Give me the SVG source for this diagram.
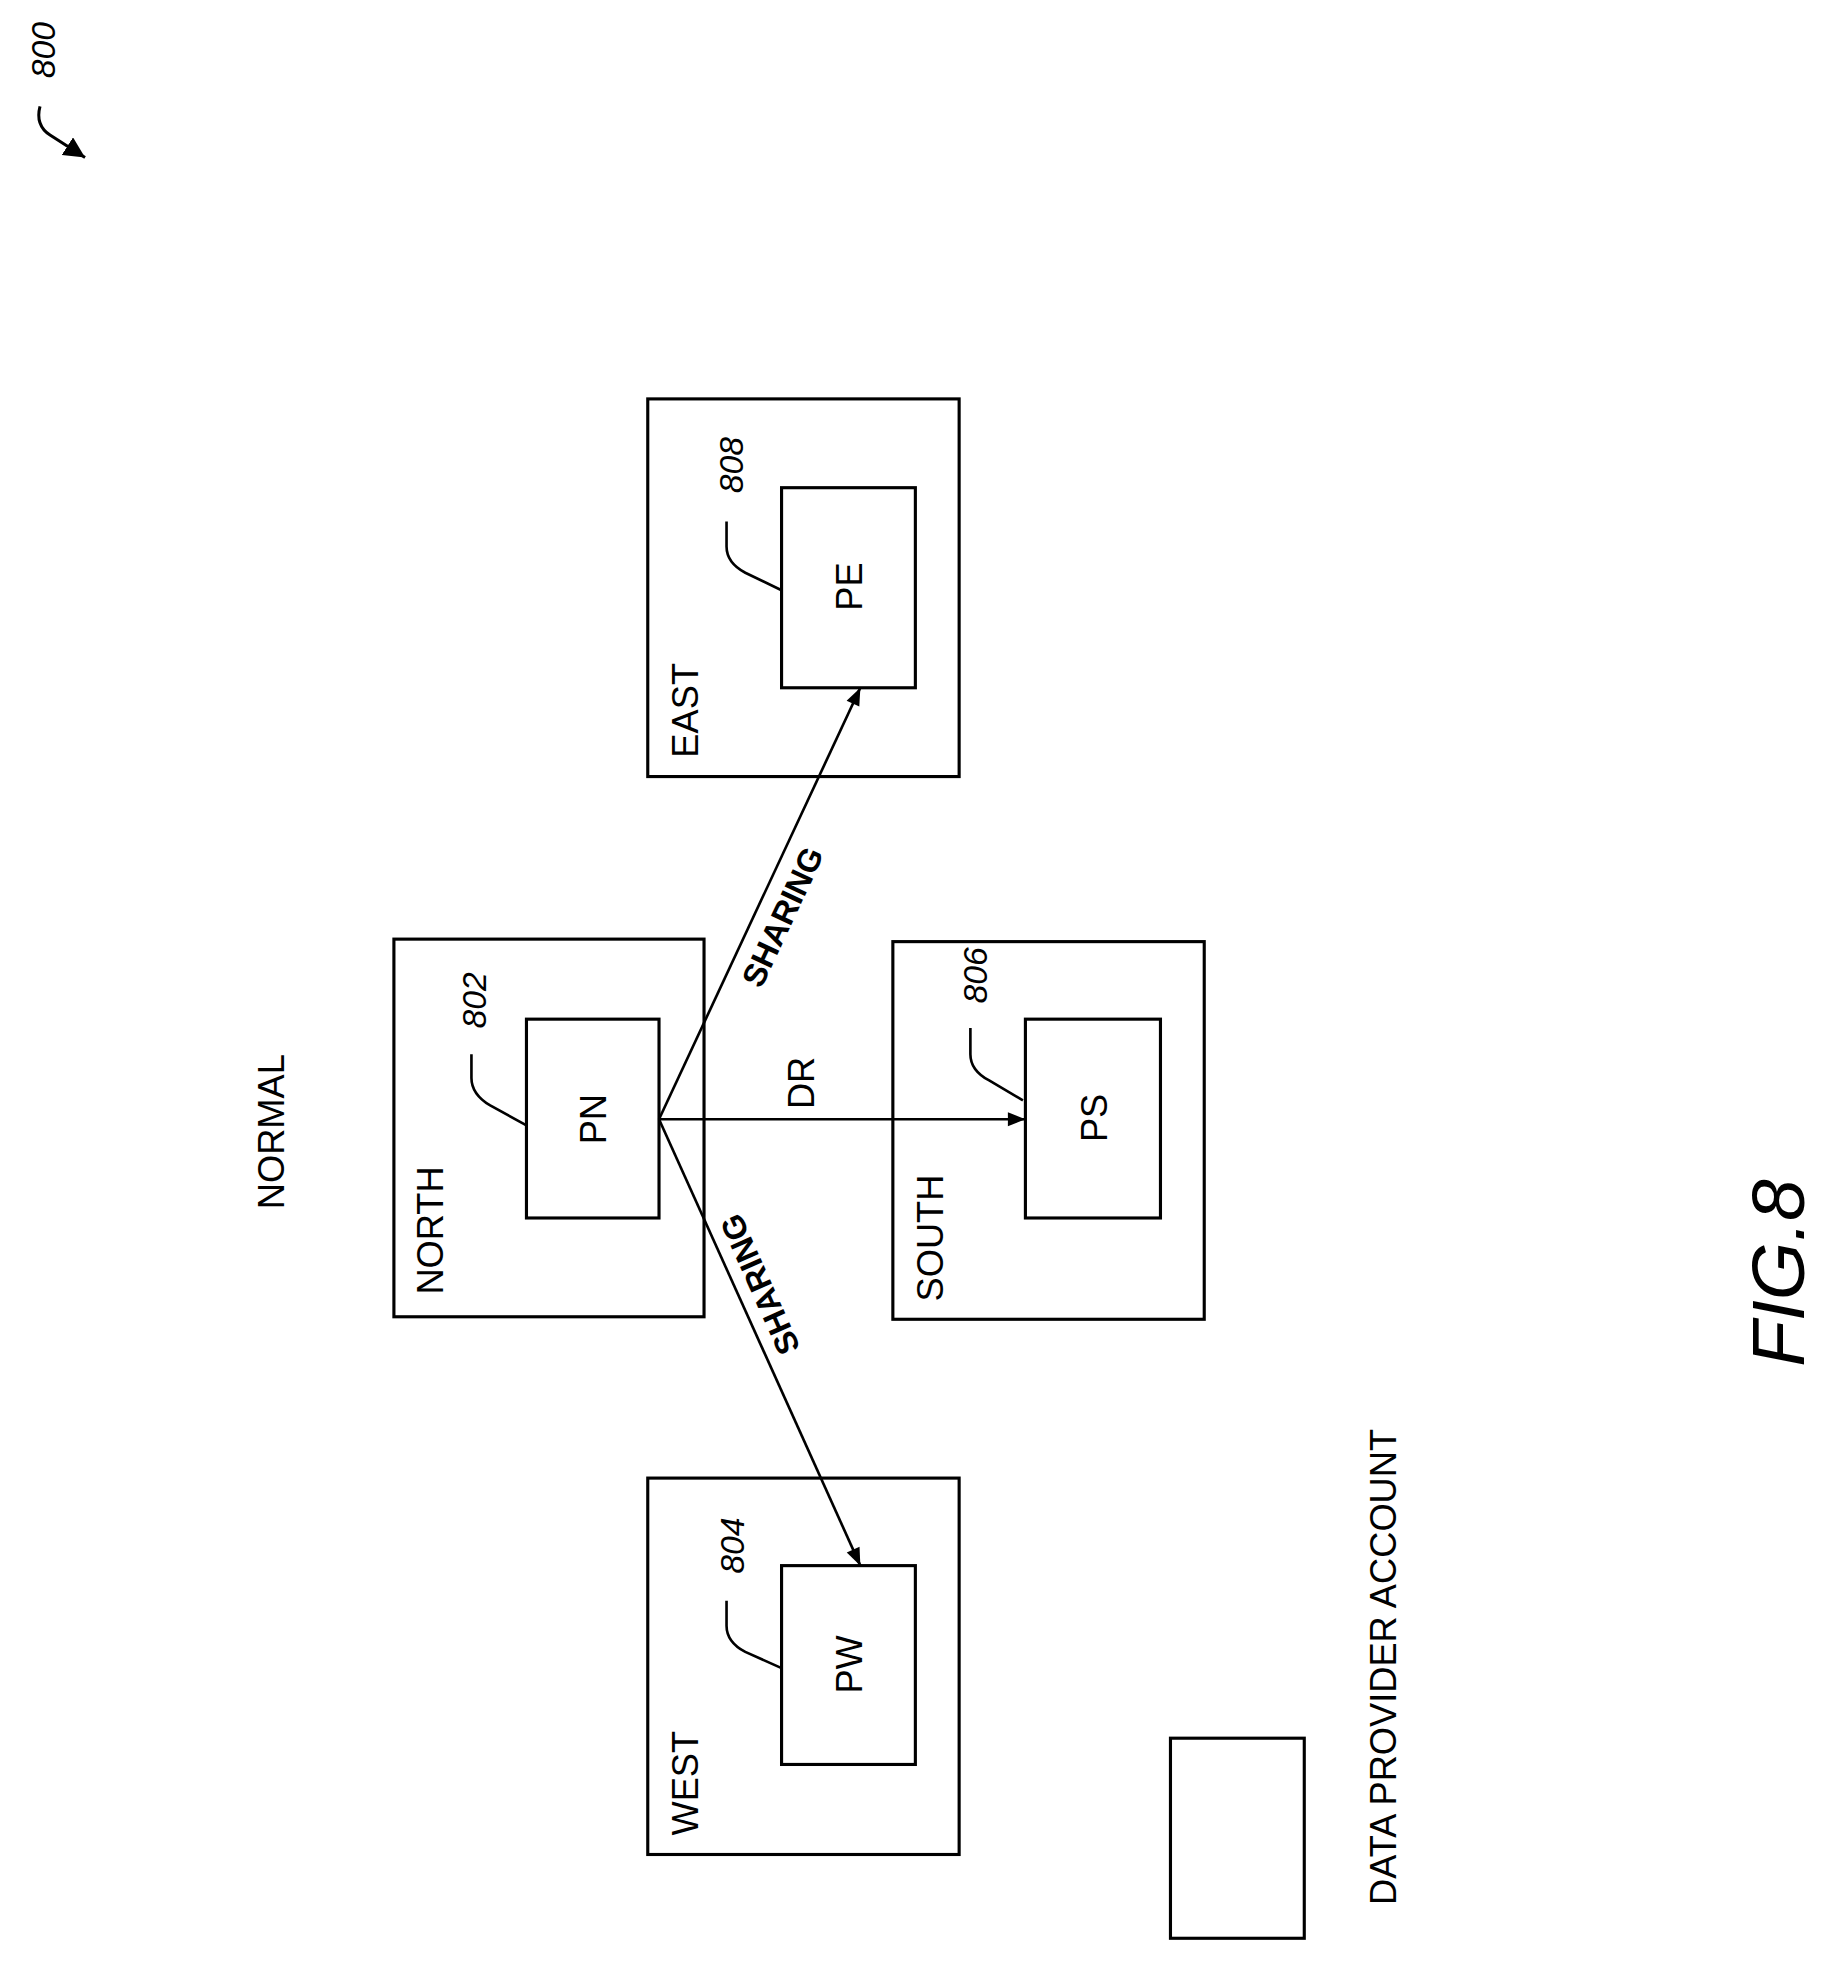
<svg xmlns="http://www.w3.org/2000/svg" width="1829" height="1962" viewBox="0 0 1829 1962">
<style>
.b{fill:none;stroke:#000;stroke-width:2.5}
.t{font-family:"Liberation Sans",Arial,sans-serif;font-size:29px;fill:#000;text-anchor:middle}
.r{font-family:"Liberation Sans",Arial,sans-serif;font-size:27px;font-style:italic;fill:#000;text-anchor:middle}
.s{font-family:"Liberation Sans",Arial,sans-serif;font-size:26px;font-weight:bold;fill:#000;text-anchor:middle}
.c{fill:none;stroke:#000;stroke-width:2.1}
</style>
<defs>
<marker id="a" viewBox="0 0 10 10" refX="10" refY="5" markerWidth="16" markerHeight="14" markerUnits="userSpaceOnUse" orient="auto"><path d="M0,1 L10,5 L0,9 z" fill="#000"/></marker>
<marker id="m" viewBox="0 0 10 10" refX="10" refY="5" markerWidth="7" markerHeight="7" orient="auto"><path d="M0,0 L10,5 L0,10 z" fill="#000"/></marker>
</defs>
<rect width="1829" height="1962" fill="#fff"/>
<g transform="scale(1.2505)">
<g id="ref800">
<text class="r" transform="translate(44,40) rotate(-90)">800</text>
<path d="M32,85 Q28,100 40,108 L68,126" fill="none" stroke="#000" stroke-width="2.4" marker-end="url(#m)"/>
</g>
<text class="t" transform="translate(227,905) rotate(-90)">NORMAL</text>
<g id="north">
<rect class="b" x="315" y="751" width="248" height="302"/>
<text class="t" transform="translate(354,984) rotate(-90)">NORTH</text>
<rect class="b" x="421" y="815" width="106" height="159"/>
<text class="t" transform="translate(485,895) rotate(-90)">PN</text>
<text class="r" transform="translate(389,800) rotate(-90)">802</text>
<path class="c" d="M377,843 L377,862 Q377,875 392,884 L421,900"/>
</g>
<g id="south">
<rect class="b" x="714" y="753" width="249" height="302"/>
<text class="t" transform="translate(754,990) rotate(-90)">SOUTH</text>
<rect class="b" x="820" y="815" width="108" height="159"/>
<text class="t" transform="translate(885,894) rotate(-90)">PS</text>
<text class="r" transform="translate(789,780) rotate(-90)">806</text>
<path class="c" d="M776,822 L776,843 Q776,856 791,864 L818,880"/>
</g>
<g id="east">
<rect class="b" x="518" y="319" width="249" height="302"/>
<text class="t" transform="translate(558,568) rotate(-90)">EAST</text>
<rect class="b" x="625" y="390" width="107" height="160"/>
<text class="t" transform="translate(689,469) rotate(-90)">PE</text>
<text class="r" transform="translate(594,372) rotate(-90)">808</text>
<path class="c" d="M581,417 L581,437 Q581,450 596,458 L625,472"/>
</g>
<g id="west">
<rect class="b" x="518" y="1182" width="249" height="301"/>
<text class="t" transform="translate(558,1426) rotate(-90)">WEST</text>
<rect class="b" x="625" y="1252" width="107" height="159"/>
<text class="t" transform="translate(689,1331) rotate(-90)">PW</text>
<text class="r" transform="translate(595,1236) rotate(-90)">804</text>
<path class="c" d="M581,1280 L581,1300 Q581,1313 596,1321 L625,1334"/>
</g>
<g id="account">
<rect class="b" x="936" y="1390" width="107" height="160"/>
<text class="t" transform="translate(1116,1333) rotate(-90)">DATA PROVIDER ACCOUNT</text>
</g>
<g id="connectors">
<line class="c" x1="527" y1="895" x2="820" y2="895" marker-end="url(#a)"/>
<line class="c" x1="527" y1="895" x2="688" y2="550" marker-end="url(#a)"/>
<line class="c" x1="527" y1="895" x2="688" y2="1252" marker-end="url(#a)"/>
<text class="t" transform="translate(651,866) rotate(-90)">DR</text>
<text class="s" transform="translate(634,737) rotate(-65)">SHARING</text>
<text class="s" transform="translate(599,1031) rotate(-114)" dominant-baseline="hanging">SHARING</text>
</g>
<text class="t" style="font-size:60px;font-style:italic" transform="translate(1443,1018) rotate(-90)">FIG.8</text>
</g>
</svg>
